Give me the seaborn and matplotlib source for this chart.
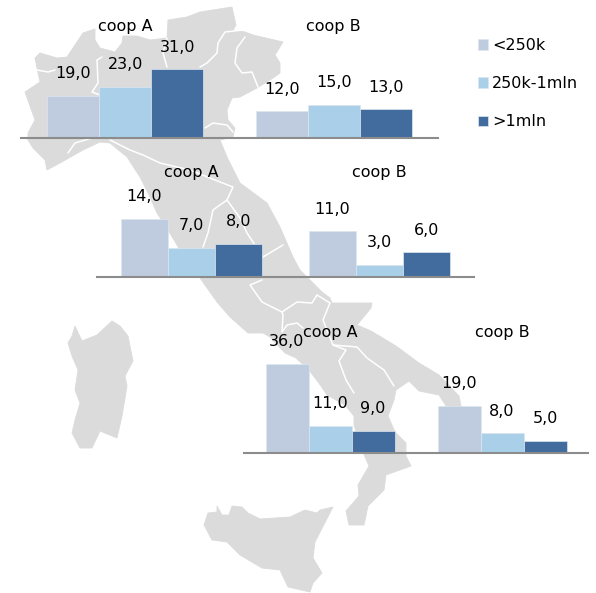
import matplotlib
matplotlib.use("Agg")
import matplotlib.pyplot as plt
import pandas as pd
import seaborn as sns
from matplotlib.patches import Polygon

W, H = 596, 593
coops = ["coop A", "coop B"]
sizes = ["<250k", "250k-1mln", ">1mln"]
palette = ["#BFCCDF", "#A9D0E8", "#426C9E"]

north_a = [19, 23, 31]
north_b = [12, 15, 13]
centre_a = [14, 7, 8]
centre_b = [11, 3, 6]
south_a = [36, 11, 9]
south_b = [19, 8, 5]

# decorative background map outline, in image pixels
mainland = [(35,58),(40,53),(57,58),(67,57),(75,45),(83,33),(95,29),(95,40),(100,48),(115,52),(122,43),(123,36),
 (137,36),(150,40),(167,38),(168,20),(187,17),(200,12),(232,7),(236,25),(233,30),(245,32),(253,35),(283,42),
 (275,55),(280,63),(280,73),(270,80),(257,88),(240,97),(232,98),(227,110),(228,120),(235,128),(233,137),(220,140),
 (227,157),(240,183),(267,203),(280,227),(293,257),(300,270),(310,280),(322,292),(330,298),(332,303),(372,303),
 (371,308),(357,325),(371,331),(396,346),(419,363),(439,375),(459,396),(461,406),(471,425),(455,420),(439,395),
 (419,391),(409,381),(396,390),(394,400),(388,416),(395,432),(406,443),(406,456),(411,466),(386,475),(384,490),
 (368,506),(364,525),(349,525),(346,511),(359,496),(358,485),(369,466),(360,445),(354,425),(354,416),(345,405),
 (327,395),(321,386),(309,370),(296,358),(285,353),(270,337),(263,333),(248,333),(230,317),(217,302),(200,278),
 (180,250),(165,225),(157,213),(150,197),(140,177),(127,157),(110,143),(100,142),(83,150),(60,163),(47,170),
 (45,160),(33,148),(28,140),(28,133),(35,120),(25,92),(40,82),(37,68)]
sardinia = [(75,326),(72,336),(68,343),(72,356),(78,370),(75,390),(80,403),(75,420),(72,433),(80,448),(92,448),
 (100,431),(117,438),(122,416),(127,386),(125,376),(133,361),(128,336),(120,326),(112,321),(97,335),(82,341)]
sicily = [(217,506),(217,512),(208,513),(204,525),(212,540),(227,542),(240,555),(262,568),(280,570),(288,587),
 (310,592),(313,583),(322,573),(313,558),(315,542),(333,507),(320,510),(317,513),(305,510),(290,517),(260,519),
 (248,513),(242,507),(232,506),(229,515),(222,515)]
borders = [
 [(37,70),(48,72),(55,70)],
 [(102,57),(97,60),(98,83),(92,92),(100,95)],
 [(68,153),(75,143),(92,138)],
 [(110,140),(130,150),(143,155),(160,163),(190,170),(220,182),(233,187),(227,200),(213,210),(208,233),(203,247)],
 [(167,38),(163,53),(167,67)],
 [(243,30),(225,32),(218,43),(217,53),(207,63),(200,67)],
 [(245,37),(237,48),(235,63),(242,73),(252,72),(258,87)],
 [(205,128),(213,123),(227,125),(233,132)],
 [(227,200),(240,218),(247,233),(263,257),(283,245)],
 [(262,280),(250,285),(262,302),(272,307),(282,312),(283,315),(282,332)],
 [(282,312),(297,302),(312,303),(317,295)],
 [(317,295),(330,303),(323,320),(333,345),(346,350),(339,361),(346,380),(354,393)],
 [(333,345),(357,347),(367,358),(384,370),(394,386)],
 [(282,332),(287,325),(297,323),(303,328)],
]

sns.set_style("white")
plt.rcParams["font.family"] = ["DejaVu Sans"]
FS = 11.5

fig = plt.figure(figsize=(W / 100, H / 100), dpi=100)
bg = fig.add_axes([0, 0, 1, 1], zorder=0)
bg.set_xlim(0, W)
bg.set_ylim(H, 0)
bg.axis("off")
for shape in (mainland, sardinia, sicily):
    bg.add_patch(Polygon(shape, closed=True, fc="#DBDBDB", ec="#DBDBDB", lw=0.6))
for line in borders:
    xs, ys = zip(*line)
    bg.plot(xs, ys, color="white", lw=1.1, solid_capstyle="round")


def fmt(v):
    return f"{v:.1f}".replace(".", ",")


def panel(a_vals, b_vals, x0, x1, base, ymax, scale, title_dy, legend=False):
    height = ymax * scale
    ax = fig.add_axes([x0 / W, (H - base) / H, (x1 - x0) / W, height / H], zorder=2)
    ax.patch.set_alpha(0)
    df = pd.DataFrame({
        "coop": [coops[0]] * 3 + [coops[1]] * 3,
        "size": sizes * 2,
        "value": list(a_vals) + list(b_vals),
    })
    sns.barplot(data=df, x="coop", y="value", hue="size", order=coops, hue_order=sizes,
                palette=palette, saturation=1, width=0.75, gap=0, ax=ax, legend=legend,
                edgecolor="#DDE6F0", linewidth=0.5)
    ax.set_xlim(-0.5, 1.5)
    ax.set_ylim(0, ymax)
    ax.set_xlabel("")
    ax.set_ylabel("")
    ax.set_xticks([])
    ax.set_yticks([])
    for s in ("top", "left", "right"):
        ax.spines[s].set_visible(False)
    ax.spines["bottom"].set_color("#8C8C8C")
    ax.spines["bottom"].set_linewidth(1.5)
    for c in ax.containers:
        ax.bar_label(c, fmt=fmt, padding=10.5, fontsize=FS, color="black")
    for i, name in enumerate(coops):
        ax.annotate(name, xy=(i, 0), xytext=(0, (title_dy - 1) * 0.72), textcoords="offset points",
                    ha="center", va="center", fontsize=FS, color="black")
    if legend:
        ax.legend(title=None, frameon=False, loc="upper left",
                  bbox_to_anchor=(478 / W, 1 - 38 / H), bbox_transform=fig.transFigure,
                  fontsize=FS, labelcolor="black", borderpad=0, borderaxespad=0,
                  handlelength=0.62, handleheight=0.62,
                  handletextpad=0.25, labelspacing=1.45)
    return ax


panel(north_a, north_b, 21, 438, 138, 40, 2.22, 113, legend=True)
panel(centre_a, centre_b, 97, 474, 277, 18, 4.14, 106)
panel(south_a, south_b, 244, 588, 453, 45, 2.47, 122)

fig.savefig("out.png", dpi=100)
